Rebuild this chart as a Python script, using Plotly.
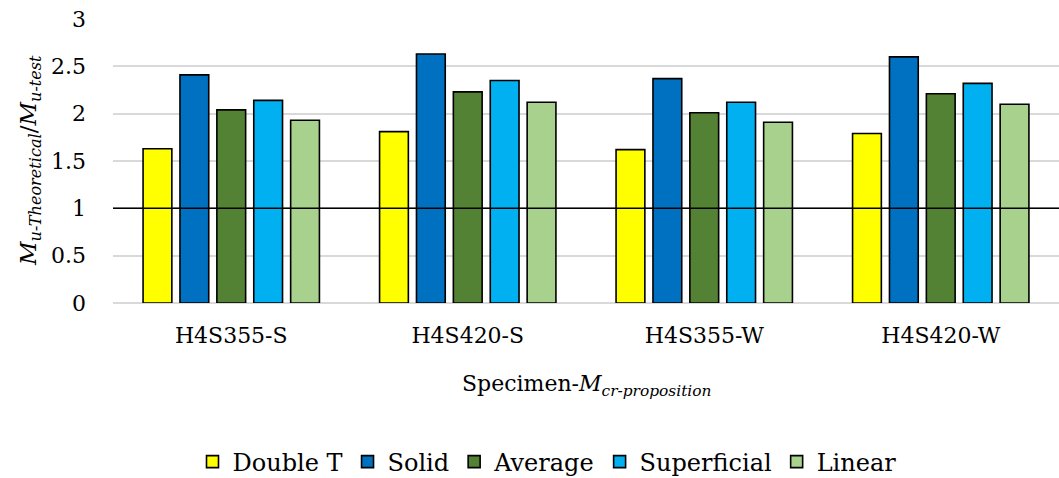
import plotly.graph_objects as go

# Specimens and theoretical-to-test moment ratios per section model
specimens = ["H4S355-S", "H4S420-S", "H4S355-W", "H4S420-W"]
double_t = [1.63, 1.81, 1.62, 1.79]
solid = [2.41, 2.63, 2.37, 2.60]
average = [2.04, 2.23, 2.01, 2.21]
superficial = [2.14, 2.35, 2.12, 2.32]
linear = [1.93, 2.12, 1.91, 2.10]
y_ticks = [0, 0.5, 1, 1.5, 2, 2.5, 3]
y_tick_labels = ["0", "0.5", "1", "1.5", "2", "2.5", "3"]

series = [
    ("Double T", double_t, "#FFFF00"),
    ("Solid", solid, "#0070C0"),
    ("Average", average, "#548235"),
    ("Superficial", superficial, "#00B0F0"),
    ("Linear", linear, "#A9D18E"),
]

FONT = "DejaVu Serif"
W, H = 1059, 478
L, R, T, B = 113, 0, 19, 175
PLOT_W, PLOT_H = W - L - R, H - T - B

fig = go.Figure()
for name, vals, color in series:
    fig.add_trace(go.Bar(
        x=specimens, y=vals, name=name,
        marker=dict(color=color, line=dict(color="black", width=1.6)),
    ))

# Reference line at ratio = 1
fig.add_shape(type="line", xref="paper", yref="y", x0=0, x1=1, y0=1, y1=1,
              line=dict(color="black", width=1.5))

# Axis titles, placed in paper coordinates
fig.add_annotation(text="Specimen-<i>M<sub>cr-proposition</sub></i>",
                   xref="paper", yref="paper", x=0.5, y=(H - B - 385) / PLOT_H,
                   xanchor="center", yanchor="middle", showarrow=False,
                   font=dict(family=FONT, size=22))
fig.add_annotation(text="<i>M<sub>u-Theoretical</sub></i>/<i>M<sub>u-test</sub></i>",
                   xref="paper", yref="paper", x=(30 - L) / PLOT_W, y=0.5,
                   xanchor="center", yanchor="middle", textangle=-90, showarrow=False,
                   font=dict(family=FONT, size=23))

fig.update_layout(
    width=W, height=H,
    margin=dict(l=L, r=R, t=T, b=B, autoexpand=False),
    paper_bgcolor="white", plot_bgcolor="white",
    barmode="group", bargap=0.22, bargroupgap=0.22,
    font=dict(family=FONT, size=22, color="black"),
    showlegend=True,
    legend=dict(orientation="h", xref="container", x=547 / W, xanchor="center",
                yref="container", y=(H - 462) / H, yanchor="middle",
                font=dict(family=FONT, size=24), itemwidth=30, traceorder="normal"),
    xaxis=dict(
        showgrid=False, showline=False, ticks="", automargin=False,
        tickfont=dict(family=FONT, size=22), ticklabelstandoff=17,
    ),
    yaxis=dict(
        range=[0, 3], tickmode="array", tickvals=y_ticks, ticktext=y_tick_labels,
        showgrid=True, gridcolor="#D9D9D9", gridwidth=1.5,
        zeroline=True, zerolinecolor="#D9D9D9", zerolinewidth=1.5,
        showline=False, ticks="", ticklen=0, automargin=False,
        tickfont=dict(family=FONT, size=22), ticklabelstandoff=26,
    ),
)

fig.write_html("out.html")
